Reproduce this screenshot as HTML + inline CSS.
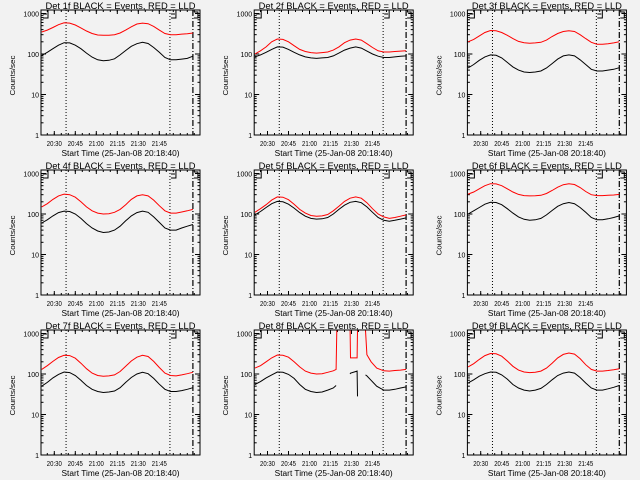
<!DOCTYPE html>
<html><head><meta charset="utf-8">
<style>
html,body{margin:0;padding:0;background:#f2f2f2;}
svg{display:block;}
text{font-family:"Liberation Sans",sans-serif;fill:#000;}
</style></head>
<body>
<svg id="chart" width="640" height="480" viewBox="0 0 640 480"></svg>
<script>
// minutes after 20:00
const times = [21,25,29,33,37,41,45,49,53,57,61,65,69,73,77,81,85,89,93,97,101,105,109,113,117,121,125,129];
const xTickMinutes = [30,45,60,75,90,105];
const xTickLabels = ["20:30","20:45","21:00","21:15","21:30","21:45"];
const yTickValues = [1,10,100,1000];
const yTickLabels = ["1","10","100","1000"];
const detNames = ["1f","2f","3f","4f","5f","6f","7f","8f","9f"];

const black1 = [92,110,135,165,190,188,165,135,105,84,72,68,70,76,95,122,155,180,195,182,145,110,82,72,72,75,78,88];
const red1   = [350,390,450,530,590,580,520,440,370,320,295,290,292,300,330,390,470,550,580,560,480,390,320,300,300,310,315,330];
const black2 = [85,95,110,130,150,148,130,110,95,85,80,78,80,82,90,105,125,140,150,140,118,100,88,82,82,85,88,90];
const red2   = [100,120,150,200,235,230,200,160,130,115,108,105,108,112,125,150,190,220,235,220,180,145,120,112,112,115,118,120];
const black3 = [45,55,70,85,95,93,80,62,48,40,36,35,36,38,45,58,75,90,95,90,72,55,42,38,38,40,42,46];
const red3   = [200,230,280,340,380,375,340,290,240,205,190,185,188,195,220,270,320,360,375,360,300,240,195,175,175,180,188,200];
const black4 = [60,72,90,108,118,115,100,78,58,45,38,35,36,40,50,68,90,108,118,110,85,62,45,40,40,45,50,55];
const red4   = [150,180,230,280,310,300,260,200,150,120,105,100,102,110,130,170,230,280,300,280,220,160,120,105,105,112,120,130];
const black5 = [95,115,145,180,205,200,175,140,108,88,78,75,76,82,100,130,165,195,205,190,150,110,82,70,66,70,75,80];
const red5   = [110,135,170,220,265,260,225,175,130,105,92,88,90,97,120,155,205,245,265,245,190,135,100,85,78,82,88,95];
const black6 = [100,120,145,175,195,192,170,135,105,85,74,70,72,78,95,122,155,180,192,180,145,110,82,72,72,76,82,90];
const red6   = [310,350,420,500,560,555,500,420,350,305,285,280,282,290,320,380,460,530,560,535,450,360,300,285,285,290,295,305];
const black7 = [50,62,80,98,112,108,92,70,52,42,37,35,36,38,46,62,82,100,110,102,78,56,42,37,37,39,42,46];
const red7   = [130,160,205,255,290,285,245,185,135,105,92,88,90,95,115,155,210,260,290,270,205,145,105,92,90,95,102,110];
const times8 = [21,25,29,33,37,41,45,49,53,57,61,65,69,73,77,79,79.5,85,89,89.3,94,94.3,97,100,101,104,108,113,117,121,125,129];
const red8   = [140,160,200,250,295,290,260,200,150,118,105,100,102,110,120,130,1200,null,1200,250,250,1200,null,1200,300,200,140,120,118,122,125,130];
const black8 = [55,65,80,95,112,110,98,78,55,42,37,35,36,40,45,52,null,null,100,105,118,28,null,95,90,70,50,40,40,42,45,48];
const black9 = [60,72,88,102,112,110,95,75,55,45,40,38,40,44,55,72,92,105,112,105,82,60,45,40,40,43,47,52];
const red9   = [150,180,230,285,320,315,275,210,155,125,112,108,110,118,140,185,250,305,330,310,240,170,130,118,118,122,128,135];
const dottedMinutes = [38.4, 112.6];
const dashMinute = 129;

const blacks=[black1,black2,black3,black4,black5,black6,black7,black8,black9];
const reds=[red1,red2,red3,red4,red5,red6,red7,red8,red9];
const NS="http://www.w3.org/2000/svg";
const svg=document.getElementById('chart');
function mk(tag,attrs,parent){const e=document.createElementNS(NS,tag);for(const k in attrs)e.setAttribute(k,attrs[k]);(parent||svg).appendChild(e);return e;}

for(let p=0;p<9;p++){
  const col=p%3,row=Math.floor(p/3);
  const X0=41+col*213.2, X1=X0+159, YB=135+row*160, YT=10+row*160;
  const xs=t=>X0+(t-20.5)*1.4;
  const ys=v=>YB-40.5*Math.log10(v);
  const g=mk('g',{});
  
  
  const cid='clip'+p;
  const cp=mk('clipPath',{id:cid},g);mk('rect',{x:X0,y:YT,width:X1-X0,height:YB-YT},cp);
  const title=mk('text',{x:(X0+X1)/2-75,y:YT-1,'font-size':'9',textLength:'150',lengthAdjust:'spacingAndGlyphs'},g);
  title.textContent='Det '+detNames[p]+' BLACK = Events, RED = LLD';
  
  
  const yl=mk('text',{x:-20,y:0,'font-size':'7',textLength:'40',lengthAdjust:'spacingAndGlyphs',transform:`translate(${X0-26},${(YT+YB)/2+3}) rotate(-90)`},g);
  yl.textContent='Counts/sec';
  
  
  const xl=mk('text',{x:(X0+X1)/2-59,y:YB+21,'font-size':'8',textLength:'118',lengthAdjust:'spacingAndGlyphs'},g);
  xl.textContent='Start Time (25-Jan-08 20:18:40)';
  
  
  // y ticks
  for(let d=0;d<yTickValues.length;d++){
    const y=ys(yTickValues[d]);
    mk('line',{x1:X0,x2:X0+5,y1:y,y2:y,stroke:'#000'},g);
    mk('line',{x1:X1-5,x2:X1,y1:y,y2:y,stroke:'#000'},g);
    const tl=mk('text',{x:X0-2,y:y+3,'text-anchor':'end','font-size':'7'},g);
    tl.textContent=yTickLabels[d];
    
    
    if(d<yTickValues.length-1){for(let m=2;m<10;m++){const yy=ys(yTickValues[d]*m);
      mk('line',{x1:X0,x2:X0+2.5,y1:yy,y2:yy,stroke:'#000'},g);mk('line',{x1:X1-2.5,x2:X1,y1:yy,y2:yy,stroke:'#000'},g);}}
  }
  // x ticks
  for(let i=0;i<xTickMinutes.length;i++){
    const x=xs(xTickMinutes[i]);
    mk('line',{x1:x,x2:x,y1:YB,y2:YB-4,stroke:'#000'},g);
    mk('line',{x1:x,x2:x,y1:YT,y2:YT+4,stroke:'#000'},g);
    const tl=mk('text',{x:x-7.5,y:YB+11,'font-size':'7',textLength:'15',lengthAdjust:'spacingAndGlyphs'},g);
    tl.textContent=xTickLabels[i];
    
    
  }
  for(let t=25;t<=130;t+=5){const x=xs(t);mk('line',{x1:x,x2:x,y1:YB,y2:YB-2,stroke:'#000'},g);mk('line',{x1:x,x2:x,y1:YT,y2:YT+2,stroke:'#000'},g);}
  // markers
  dottedMinutes.forEach(m=>{const x=xs(m);const l=mk('line',{x1:x,x2:x,y1:YT,y2:YB,stroke:'#000','stroke-dasharray':'1,2'},g);
    });
  const dx=xs(dashMinute);
  const dl=mk('line',{x1:dx,x2:dx,y1:YT,y2:YB,stroke:'#000','stroke-dasharray':'6,2,1,2','stroke-width':'1.2'},g);
  
  mk('path',{d:`M${X0+7},${YT} V${YT+8} H${X0+2} M${X0+2},${YT+4} H${X0+6}`,stroke:'#000',fill:'none'},g);
  const ex=xs(dottedMinutes[1]);
  mk('path',{d:`M${ex+6},${YT} V${YT+8} H${ex+1} M${ex+1},${YT+4} H${ex+5}`,stroke:'#000',fill:'none'},g);
  mk('path',{d:`M${dx+1},${YT+2} H${dx+5} V${YT+8} H${dx+1}`,stroke:'#000',fill:'none'},g);
  // series
  const tArr = p===7 ? times8 : times;
  [[reds[p],'#ff0000','red-lld-series'],[blacks[p],'#000000','black-events-series']].forEach(([vals,c,name])=>{
    let d='',pen=false;
    for(let i=0;i<tArr.length;i++){
      const v=vals[i];
      if(v===null||v===undefined){pen=false;continue;}
      d+=(pen?'L':'M')+xs(tArr[i]).toFixed(1)+','+ys(v).toFixed(1);pen=true;
    }
    const path=mk('path',{d:d,stroke:c,fill:'none','stroke-width':'1','clip-path':`url(#${cid})`},g);
    
    
  });
  const fr=mk('rect',{x:X0,y:YT,width:X1-X0,height:YB-YT,fill:'none',stroke:'#000'},g);
  
  
}
</script>
</body></html>
